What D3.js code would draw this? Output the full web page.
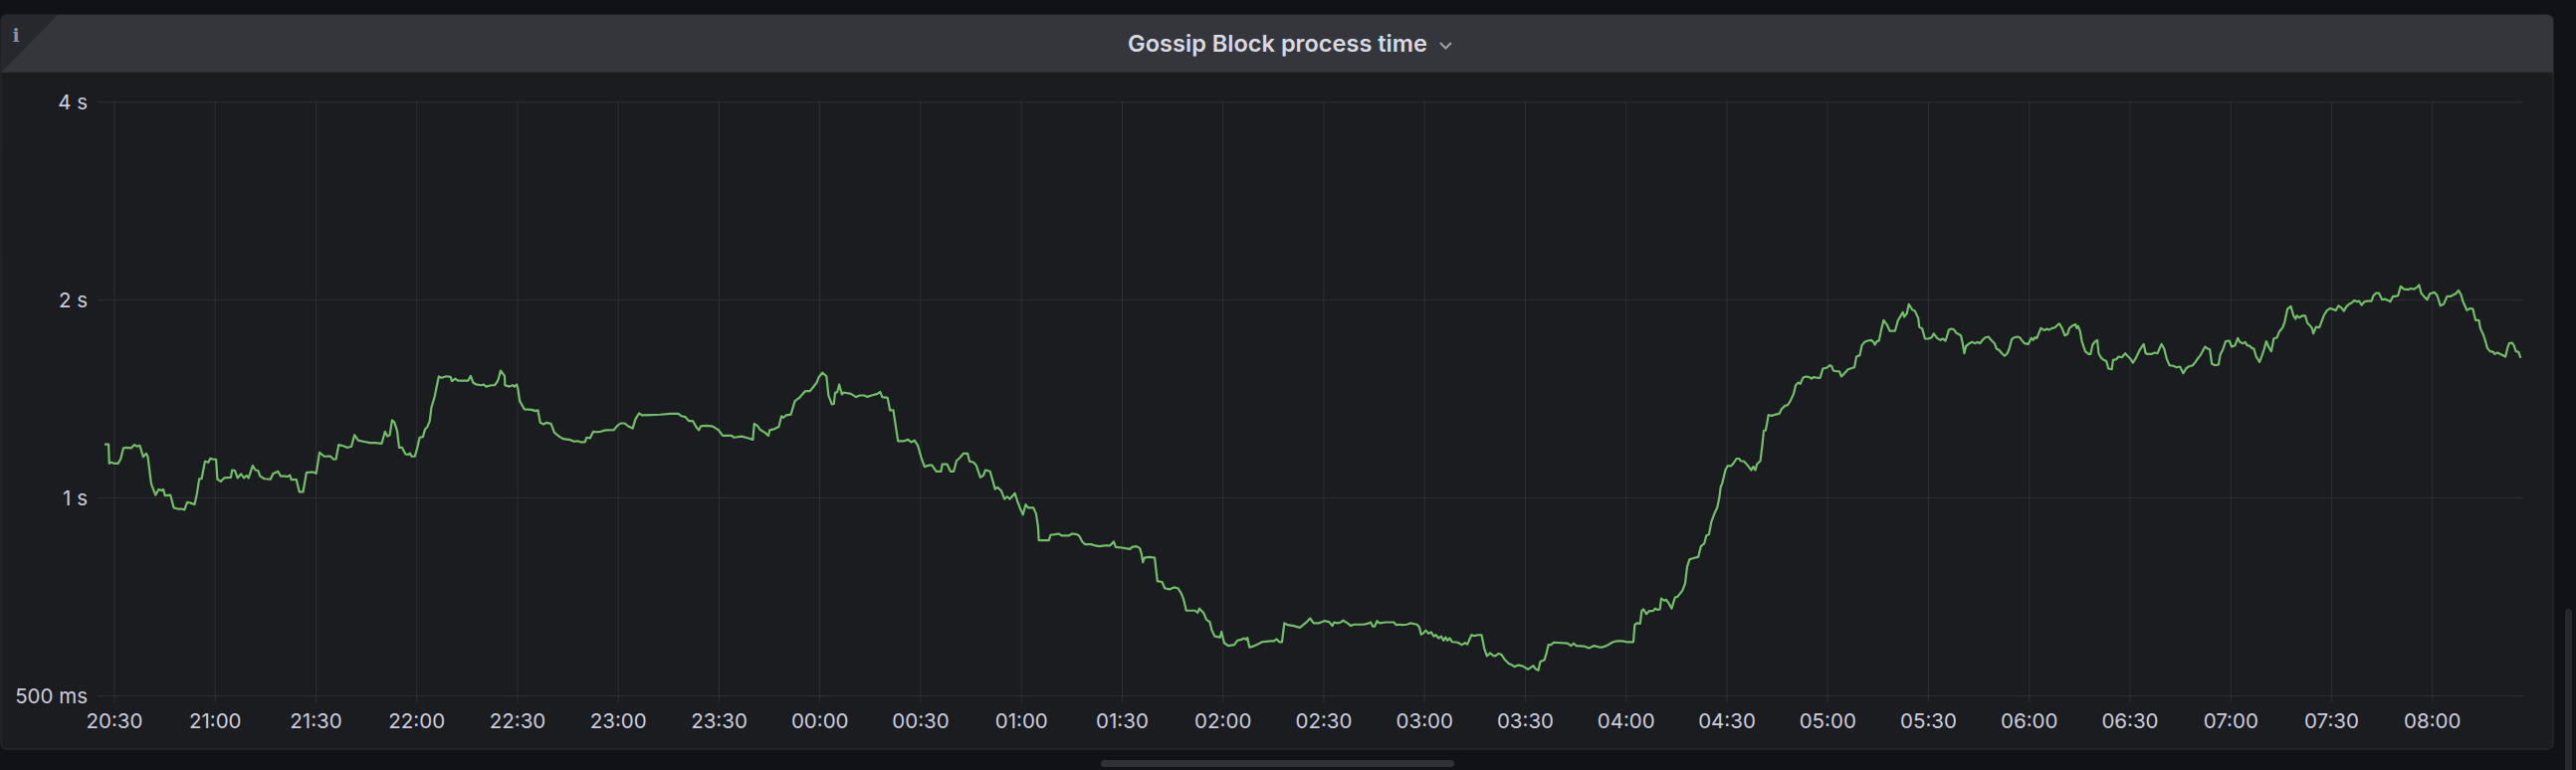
<!DOCTYPE html>
<html>
<head>
<meta charset="utf-8">
<script src="https://cdn.jsdelivr.net/npm/d3@7"></script>
<style>
html, body { margin: 0; padding: 0; background: #111217; }
svg { display: block; }
</style>
</head>
<body>
<svg id="chart" width="2588" height="774"></svg>
<script>
// minutes after 20:30 (negative = before)
var timeOffsets = [
    -2.8,-1.6,-1.4,-0.8,0.0,1.2,2.0,2.8,3.7,5.1,
    6.1,6.9,7.7,8.7,9.6,10.1,11.1,12.4,13.3,14.1,
    14.7,15.2,16.8,17.8,19.0,20.2,21.0,21.8,22.8,24.0,
    24.7,25.4,26.1,27.1,28.1,28.7,29.6,30.4,30.8,31.8,
    32.8,34.8,35.2,36.0,36.8,37.8,38.7,39.5,40.1,41.3,
    42.1,42.9,43.5,44.8,46.6,47.4,48.2,48.8,49.6,50.8,
    51.6,52.4,52.8,54.3,55.2,56.3,57.3,58.5,59.5,60.2,
    61.2,62.6,64.4,65.4,66.1,66.9,68.5,69.5,70.7,71.6,
    72.7,74.2,76.2,77.8,79.7,80.7,81.4,82.1,82.8,83.5,
    84.3,84.9,85.8,86.8,87.5,
    88.1,88.6,89.6,90.2,91.0,92.0,92.6,93.3,94.0,94.5,
    95.5,96.0,96.7,97.5,99.0,100.2,100.6,101.6,102.4,105.4,
    106.2,106.9,107.8,109.3,110.1,110.8,112.3,113.3,114.1,114.5,
    115.1,116.3,116.4,117.7,118.7,119.2,119.9,120.2,120.8,122.2,
    124.4,125.4,126.2,126.9,127.9,128.6,130.1,131.1,132.7,133.8,
    135.8,137.0,138.0,139.0,140.2,140.7,141.7,142.7,143.7,144.9,
    146.4,148.8,149.8,150.8,152.0,153.0,154.4,155.3,156.3,157.3,
    159.7,162.6,165.6,168.0,169.0,170.1,171.1,172.3,173.3,174.1,
    174.7,176.4,177.9,
    178.5,180.0,181.2,183.9,184.5,186.9,188.9,190.2,190.6,191.6,
    192.3,193.8,194.8,195.2,196.7,197.9,198.7,199.3,200.1,201.5,
    202.7,204.0,205.8,207.2,208.0,209.2,209.8,210.9,212.1,212.7,
    213.7,214.3,214.7,215.3,215.9,216.7,217.2,219.4,220.9,222.0,
    223.4,224.3,225.5,227.3,228.1,228.7,230.3,231.0,232.0,233.4,
    235.2,236.4,237.3,238.3,239.3,240.3,241.3,242.7,243.5,244.8,
    246.2,246.6,248.0,249.0,250.0,250.8,251.9,252.9,254.1,254.7,
    255.9,256.7,257.9,258.8,259.4,260.8,262.3,263.0,264.1,265.1,
    265.9,266.7,268.2,
    269.0,269.8,270.6,271.4,272.1,273.7,274.5,275.1,275.3,278.3,
    278.8,280.2,281.2,282.2,284.2,285.2,286.6,287.3,288.3,289.1,
    290.9,292.1,293.2,295.0,296.5,297.6,298.2,299.9,301.1,302.5,
    303.1,304.4,305.4,305.9,306.3,306.8,308.2,309.8,310.6,312.0,
    312.8,314.2,315.5,316.7,317.7,318.4,319.2,321.8,322.6,323.1,
    324.4,325.2,326.2,326.8,327.7,329.3,329.7,330.5,331.7,333.5,
    334.4,335.6,336.4,337.0,337.4,338.0,339.2,340.4,341.8,344.3,
    345.3,346.1,346.9,347.7,348.4,349.4,351.2,353.0,354.0,355.1,
    356.1,357.1,358.6,
    360.3,361.7,362.7,363.2,364.2,365.2,365.9,367.2,368.2,369.1,
    372.1,373.6,374.1,374.7,375.3,376.0,376.7,378.5,381.0,381.7,
    382.6,383.4,384.9,385.9,387.9,388.6,389.1,389.8,390.5,391.3,
    392.1,392.9,393.5,394.3,395.1,395.8,396.4,397.0,397.6,398.4,
    400.0,401.2,402.2,402.9,403.5,404.1,404.9,406.1,407.1,407.9,
    408.7,409.7,410.5,411.2,412.2,413.0,414.0,415.2,416.2,416.9,
    418.1,419.4,420.9,421.7,422.5,423.1,424.0,424.6,425.8,426.4,
    427.0,427.8,428.6,432.7,433.7,434.5,435.3,437.6,439.1,440.6,
    442.1,443.1,444.3,445.5,446.3,447.5,449.0,
    450.3,451.6,452.3,452.7,453.3,454.3,454.8,455.3,456.2,457.0,
    458.2,458.8,459.4,460.2,460.6,461.5,462.1,462.7,463.7,464.7,
    465.5,466.9,467.7,468.3,469.0,470.0,471.6,472.4,473.4,474.0,
    474.8,475.5,476.3,477.3,477.9,478.3,478.7,479.7,480.3,481.3,
    481.9,483.0,483.8,484.2,485.2,486.0,486.8,487.4,488.0,488.6,
    489.1,490.1,490.7,491.1,491.7,492.5,493.5,494.7,495.7,496.4,
    497.4,498.2,499.0,500.0,500.6,501.4,502.0,502.4,502.9,503.9,
    504.7,505.3,505.9,507.1,507.9,508.7,509.8,510.8,511.4,511.8,
    512.6,513.6,514.2,515.0,516.2,516.9,518.1,518.7,519.7,520.3,
    521.1,522.1,523.1,523.8,524.2,524.8,525.4,526.2,526.8,527.8,
    528.6,530.2,531.1,532.5,532.9,533.7,534.3,535.3,536.1,537.1,
    537.4,538.3,539.1,
    540.1,541.1,541.7,542.7,543.7,544.4,545.2,545.6,546.2,547.0,
    547.8,548.4,549.8,550.4,550.8,551.3,552.3,553.1,554.1,554.7,
    555.5,556.3,557.1,558.0,558.8,559.8,560.4,561.2,562.0,562.8,
    563.6,564.2,564.9,565.7,566.5,567.3,567.9,568.7,569.9,570.7,
    571.3,571.8,572.4,573.6,574.6,575.4,576.0,577.0,577.8,578.6,
    579.1,579.9,580.7,581.5,582.1,583.1,583.9,584.3,584.7,585.3,
    585.8,586.8,587.8,588.4,589.0,589.8,590.4,590.8,591.6,592.3,
    593.1,593.7,594.7,595.1,596.1,596.7,597.7,598.7,599.6,600.2,
    601.0,601.8,603.0,604.2,604.8,605.4,606.5,607.5,608.3,609.5,
    610.3,611.1,611.9,613.0,614.0,615.0,616.0,616.8,617.6,618.8,
    619.6,620.3,621.1,621.9,622.5,623.3,623.9,624.5,625.5,626.5,
    627.0,627.8,628.6,629.7,
    630.4,631.4,632.2,632.8,633.8,634.4,635.0,635.8,636.4,637.0,
    637.7,638.7,639.5,640.1,640.7,641.5,642.2,642.9,643.9,644.6,
    645.6,646.2,647.0,648.0,648.8,649.4,649.8,650.5,651.5,652.3,
    652.9,653.7,654.3,654.7,655.5,656.5,657.1,657.8,658.8,659.8,
    661.4,662.2,663.0,663.8,664.6,665.3,666.1,666.9,667.7,668.3,
    669.1,669.9,670.9,672.0,672.6,673.4,674.2,675.2,676.0,677.0,
    677.6,678.4,679.1,679.9,680.7,681.7,682.9,683.7,684.7,685.6,
    686.2,686.8,687.6,688.6,689.4,690.8,691.6,692.5,693.5,694.5,
    695.5,696.3,697.1,697.9,698.7,699.2,699.8,700.4,701.4,702.2,
    702.6,703.0,704.0,704.4,705.4,705.9,706.5,707.3,708.3,708.7,
    709.5,710.7,711.9,712.5,713.0,713.8,714.4,715.0,715.8,716.4
];

// gossip block process time, milliseconds
var processMs = [
    1205,1205,1127,1131,1127,1127,1144,1189,1191,1189,
    1203,1196,1200,1153,1167,1153,1049,1009,1029,1025,
    1029,1007,1009,965,961,961,958,984,981,976,
    1013,1068,1068,1135,1131,1147,1143,1143,1066,1058,
    1071,1073,1101,1099,1071,1086,1071,1080,1071,1118,
    1101,1099,1078,1068,1066,1088,1092,1096,1078,1078,
    1076,1081,1065,1065,1020,1020,1091,1093,1093,1088,
    1171,1155,1156,1143,1144,1203,1197,1191,1196,1245,
    1222,1217,1211,1211,1208,1260,1239,1245,1311,1301,
    1263,1191,1191,1164,1162,
    1168,1155,1155,1185,1234,1237,1270,1281,1308,1370,
    1426,1469,1528,1521,1529,1526,1503,1517,1506,1506,
    1531,1496,1486,1482,1486,1475,1482,1482,1500,1517,
    1560,1531,1482,1475,1482,1475,1486,1469,1402,1362,
    1360,1354,1358,1300,1292,1300,1295,1255,1237,1228,
    1224,1217,1219,1214,1214,1234,1231,1260,1258,1260,
    1266,1267,1285,1297,1297,1285,1274,1318,1343,1334,
    1335,1337,1341,1341,1330,1326,1308,1308,1281,1266,
    1284,1286,1284,
    1281,1266,1242,1242,1234,1239,1231,1225,1295,1285,
    1269,1255,1242,1266,1272,1281,1330,1323,1334,1338,
    1402,1418,1452,1452,1469,1496,1524,1549,1529,1431,
    1386,1389,1445,1445,1486,1435,1445,1438,1422,1430,
    1430,1423,1430,1438,1448,1422,1418,1358,1358,1219,
    1219,1225,1214,1222,1200,1151,1114,1120,1120,1096,
    1096,1124,1124,1096,1096,1137,1151,1167,1167,1135,
    1131,1119,1073,1080,1101,1096,1030,1036,1025,995,
    1003,995,1015,
    985,961,942,976,965,965,945,902,861,861,
    877,879,881,875,875,881,879,875,856,849,
    849,845,843,845,845,857,841,839,837,835,
    841,843,837,820,797,810,812,810,746,744,
    728,725,730,728,715,700,673,673,668,678,
    667,652,647,628,615,613,625,601,595,597,
    606,608,611,608,612,592,594,598,603,605,
    605,609,603,603,644,640,638,634,640,647,
    655,644,644,
    649,647,638,646,644,646,650,644,638,641,
    641,644,646,637,637,649,644,646,646,640,
    641,640,641,644,641,635,619,622,628,621,
    624,615,618,611,615,606,613,606,611,603,
    602,597,601,598,608,618,616,618,618,590,
    574,580,575,574,579,577,567,559,556,553,
    556,554,548,551,555,549,546,563,566,579,
    597,597,602,600,595,600,595,594,590,595,
    592,592,595,600,603,605,605,
    603,603,603,640,644,643,673,676,665,672,
    672,678,675,676,702,697,699,692,678,705,
    707,722,740,784,805,808,812,843,851,875,
    879,918,942,967,1001,1039,1049,1101,1117,1117,
    1124,1146,1146,1137,1135,1124,1111,1101,1114,1101,
    1124,1137,1205,1263,1266,1335,1332,1338,1341,1363,
    1379,1382,1402,1438,1482,1496,1489,1506,1524,1528,
    1524,1517,1524,1521,1521,1571,1575,1589,1582,1560,
    1556,1556,1528,1542,1567,1571,1578,1638,1646,1704,
    1724,1732,1736,1724,1708,1728,1732,1810,1861,1831,
    1793,1793,1861,1914,1883,1905,1968,1931,1922,1874,
    1818,1806,1744,
    1744,1752,1776,1748,1736,1744,1732,1756,1799,1806,
    1799,1780,1764,1708,1657,1698,1716,1724,1716,1724,
    1716,1738,1752,1756,1736,1716,1684,1676,1657,1642,
    1657,1684,1740,1752,1756,1752,1736,1716,1712,1748,
    1736,1752,1748,1810,1797,1806,1799,1810,1814,1831,
    1839,1810,1764,1772,1810,1827,1835,1810,1822,1789,
    1728,1669,1653,1653,1708,1728,1736,1657,1630,1619,
    1612,1571,1567,1619,1623,1638,1634,1657,1638,1627,
    1604,1627,1676,1712,1657,1653,1653,1661,1657,1712,
    1684,1623,1589,1586,1578,1582,1545,1571,1582,1589,
    1608,1627,1646,1676,1696,1684,1680,1597,1589,1593,
    1649,1680,1728,1732,
    1696,1704,1748,1724,1716,1724,1704,1700,1688,1684,
    1638,1608,1649,1684,1728,1692,1669,1744,1752,1789,
    1814,1852,1936,1954,1891,1870,1891,1878,1891,1891,
    1844,1827,1810,1776,1818,1814,1848,1891,1927,1940,
    1927,1958,1945,1922,1954,1968,1977,1995,1986,1990,
    1963,1986,1990,1990,2028,2047,2047,2000,2004,1995,
    1986,2023,2023,2028,2095,2075,2071,2080,2075,2090,
    2105,2047,2023,2000,2042,2052,2028,1958,1968,2023,
    2023,2033,2042,2066,2033,1990,1958,1927,1940,1936,
    1896,1861,1861,1810,1764,1732,1688,1669,1665,1653,
    1661,1649,1638,1688,1716,1720,1704,1669,1665,1630
];

var yTickValues = [0.5, 1, 2, 4];
var yTickLabels = ["500 ms", "1 s", "2 s", "4 s"];
var panelTitle = "Gossip Block process time";

init();

function init() {
    var W = 2588, H = 774;
    var vis = d3.select("#chart");

    vis.append("rect")
        .attr("width", W)
        .attr("height", H)
        .attr("fill", "#111217");

    // panel body
    vis.append("rect")
        .attr("x", 1)
        .attr("y", 15)
        .attr("width", 2564)
        .attr("height", 738)
        .attr("rx", 6)
        .attr("fill", "#1a1c20")
        .attr("stroke", "#25272b")
        .attr("stroke-width", 1.5);

    // panel header
    vis.append("path")
        .attr("d", "M1,72.7 L1,21 Q1,15 7,15 L2559,15 Q2565,15 2565,21 L2565,72.7 Z")
        .attr("fill", "#35363b");

    vis.append("path")
        .attr("d", "M1,72.7 L1,21 Q1,15 7,15 L58,15 Z")
        .attr("fill", "#27282d");

    vis.append("text")
        .attr("x", 16)
        .attr("y", 41.5)
        .attr("text-anchor", "middle")
        .attr("fill", "#8f909a")
        .style("font", "bold 19px 'DejaVu Serif'")
        .text("i");

    var title = vis.append("text")
        .attr("x", 1283.5)
        .attr("y", 52)
        .attr("text-anchor", "middle")
        .attr("fill", "#d8d9e3")
        .style("font-family", "Inter, Roboto, sans-serif")
        .style("font-weight", 600)
        .style("font-size", "26px")
        .text(panelTitle);

    // fit title to its width in the picture
    var len = title.node().getComputedTextLength();
    if (len > 0 && Math.abs(len - 301) > 3) {
        title.style("font-size", (26 * 301 / len) + "px");
        len = title.node().getComputedTextLength();
    }
    var cx = 1283.5 + len / 2 + 13;
    vis.append("path")
        .attr("d", "M" + cx + ",43 L" + (cx + 5.5) + ",48.5 L" + (cx + 11) + ",43")
        .attr("fill", "none")
        .attr("stroke", "#9fa1a8")
        .attr("stroke-width", 2);

    // plot area
    var left = 97.6, right = 2534.7, top = 102.3, bottom = 706;
    var start = new Date(2022, 10, 14, 20, 30);
    var toDate = function(m) { return new Date(start.getTime() + m * 60000); };

    var x = d3.scaleTime()
        .domain([toDate(-5), toDate(717.1)])
        .range([left, right]);
    var y = d3.scaleLog()
        .base(2)
        .domain([0.488, 4])
        .range([bottom, top]);

    var gridColor = "rgba(204,204,220,0.11)";
    var textColor = "#ccccdc";

    var gx = vis.append("g")
        .attr("transform", "translate(0," + bottom + ")")
        .call(d3.axisBottom(x)
            .ticks(d3.timeMinute.every(30))
            .tickSize(-(bottom - top))
            .tickFormat(d3.timeFormat("%H:%M")))
        .attr("font-family", "Inter, Roboto, sans-serif")
        .attr("font-size", 20.5);
    gx.select(".domain").remove();
    gx.selectAll("line").attr("stroke", gridColor).attr("stroke-width", 1);
    gx.selectAll("text")
        .attr("y", 19)
        .attr("dy", "0.35em")
        .attr("fill", textColor);

    var gy = vis.append("g")
        .attr("transform", "translate(" + left + ",0)")
        .call(d3.axisLeft(y)
            .tickValues(yTickValues)
            .tickSize(-(right - left))
            .tickPadding(9.6)
            .tickFormat(function(d, i) { return yTickLabels[i]; }))
        .attr("font-family", "Inter, Roboto, sans-serif")
        .attr("font-size", 20.5);
    gy.select(".domain").remove();
    gy.selectAll("line").attr("stroke", gridColor).attr("stroke-width", 1);
    gy.selectAll("text")
        .attr("dy", "0.35em")
        .attr("fill", textColor);

    vis.append("clipPath")
        .attr("id", "plot-clip")
        .append("rect")
        .attr("x", left)
        .attr("y", top - 4)
        .attr("width", right - left)
        .attr("height", bottom - top + 8);

    var data = d3.zip(timeOffsets, processMs);
    var line = d3.line()
        .x(function(d) { return x(toDate(d[0])); })
        .y(function(d) { return y(d[1] / 1000); });

    vis.append("path")
        .datum(data)
        .attr("clip-path", "url(#plot-clip)")
        .attr("d", line)
        .attr("fill", "none")
        .attr("stroke", "#73bf69")
        .attr("stroke-width", 2.2)
        .attr("stroke-linejoin", "round");

    // scrollbars of the dashboard
    vis.append("rect")
        .attr("x", 2577)
        .attr("y", 612)
        .attr("width", 7)
        .attr("height", 170)
        .attr("rx", 3.5)
        .attr("fill", "#26282d");
    vis.append("rect")
        .attr("x", 1106)
        .attr("y", 764)
        .attr("width", 355)
        .attr("height", 7)
        .attr("rx", 3.5)
        .attr("fill", "#2f3136");
}
</script>
</body>
</html>
